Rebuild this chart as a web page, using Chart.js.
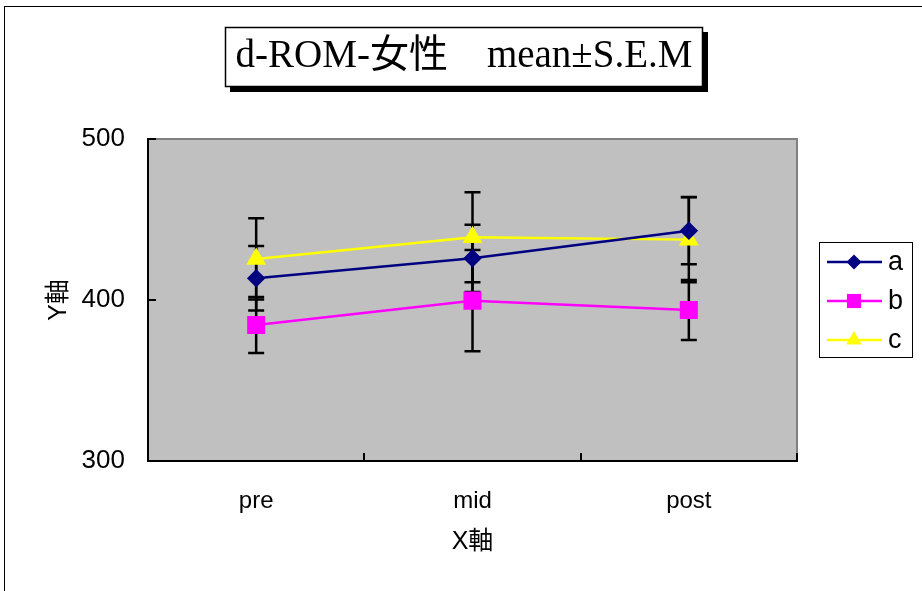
<!DOCTYPE html>
<html>
<head>
<meta charset="utf-8">
<script src="https://cdn.jsdelivr.net/npm/chart.js@4"></script>
<style>
  html, body { margin: 0; padding: 0; background: #fff; }
  canvas { display: block; }
</style>
</head>
<body>
<canvas id="chart" width="922" height="591"></canvas>
<script>
const labels = ['pre', 'mid', 'post'];
const seriesA = [413.5, 425.9, 443.0];
const seriesB = [384.5, 399.6, 393.8];
const seriesC = [425.5, 439.0, 437.5];
const semA = [20.0, 20.9, 20.8];
const semB = [17.4, 31.5, 18.6];
const semC = [25.2, 28.0, 26.5];
const yTicks = [300, 400, 500];
const titleText = 'd-ROM-女性\u3000mean\u00B1S.E.M';

const sans = '"Liberation Sans", Arial, "Noto Sans CJK JP", sans-serif';
const serif = '"Liberation Serif", "Times New Roman", "Noto Sans CJK JP", serif';

// error bars, inner ticks, frame, title box, legend
const excelLook = {
  id: 'excelLook',
  beforeDraw(chart) {
    const c = chart.ctx, a = chart.chartArea;
    c.save();
    c.fillStyle = '#fff';
    c.fillRect(0, 0, chart.width, chart.height);
    c.strokeStyle = '#000';
    c.lineWidth = 1;
    c.strokeRect(4.5, 6.5, chart.width + 20, chart.height + 20);
    c.fillStyle = '#c0c0c0';
    c.fillRect(a.left, a.top, a.right - a.left, a.bottom - a.top);
    c.strokeStyle = '#808080';
    c.lineWidth = 2;
    c.beginPath();
    c.moveTo(a.left, a.top);
    c.lineTo(a.right, a.top);
    c.lineTo(a.right, a.bottom);
    c.stroke();
    c.restore();
  },
  beforeDatasetsDraw(chart) {
    const c = chart.ctx, a = chart.chartArea;
    const xs = chart.scales.x, ys = chart.scales.y;
    c.save();
    c.strokeStyle = '#000';
    c.lineWidth = 2;
    // inner tick marks
    c.beginPath();
    for (let i = 1; i <= labels.length; i++) {
      const x = Math.round(a.left + (a.right - a.left) * i / labels.length);
      c.moveTo(x, a.bottom);
      c.lineTo(x, a.bottom - 8);
    }
    yTicks.forEach(v => {
      const y = Math.round(ys.getPixelForValue(v));
      c.moveTo(a.left, y);
      c.lineTo(a.left + 8, y);
    });
    c.stroke();
    // error bars
    c.lineWidth = 2.5;
    const sems = [semA, semB, semC];
    chart.data.datasets.forEach((ds, i) => {
      ds.data.forEach((v, j) => {
        const x = xs.getPixelForValue(j);
        const yt = ys.getPixelForValue(v + sems[i][j]);
        const yb = ys.getPixelForValue(v - sems[i][j]);
        c.beginPath();
        c.moveTo(x, yt); c.lineTo(x, yb);
        c.moveTo(x - 8, yt); c.lineTo(x + 8, yt);
        c.moveTo(x - 8, yb); c.lineTo(x + 8, yb);
        c.stroke();
      });
    });
    c.restore();
  },
  afterDraw(chart) {
    const c = chart.ctx;
    c.save();
    // title box with shadow
    c.fillStyle = '#000';
    c.fillRect(230, 32, 478, 60);
    c.fillStyle = '#fff';
    c.fillRect(225, 27, 478, 60);
    c.strokeStyle = '#000';
    c.lineWidth = 1.5;
    c.strokeRect(225.5, 27.5, 477, 59);
    c.fillStyle = '#000';
    c.font = '39px ' + serif;
    c.textAlign = 'center';
    c.textBaseline = 'alphabetic';
    c.fillText(titleText, 464, 67);
    // legend
    c.fillStyle = '#fff';
    c.fillRect(819, 242, 94, 116);
    c.strokeStyle = '#000';
    c.lineWidth = 1;
    c.strokeRect(819.5, 242.5, 93, 115);
    const rows = [262, 301, 340];
    chart.data.datasets.forEach((ds, i) => {
      const y = rows[i];
      c.strokeStyle = ds.borderColor;
      c.lineWidth = 2.5;
      c.beginPath();
      c.moveTo(827, y); c.lineTo(882, y);
      c.stroke();
      c.fillStyle = ds.pointBackgroundColor;
      Chart.helpers.drawPoint(c, { pointStyle: ds.pointStyle, radius: ds.legendRadius, rotation: 0, borderWidth: 0 }, 854, y);
      c.fillStyle = '#000';
      c.font = '27px ' + sans;
      c.textAlign = 'left';
      c.textBaseline = 'middle';
      c.fillText(ds.label, 888, y + 1);
    });
    c.restore();
  }
};

new Chart(document.getElementById('chart'), {
  type: 'line',
  data: {
    labels: labels,
    datasets: [
      { label: 'a', data: seriesA, borderColor: '#000080', backgroundColor: '#000080',
        pointBackgroundColor: '#000080', pointBorderColor: '#000080',
        pointStyle: 'rectRot', pointRadius: 7.5, legendRadius: 7.5, borderWidth: 2.5 },
      { label: 'b', data: seriesB, borderColor: '#ff00ff', backgroundColor: '#ff00ff',
        pointBackgroundColor: '#ff00ff', pointBorderColor: '#ff00ff',
        pointStyle: 'rect', pointRadius: 11, legendRadius: 10, borderWidth: 2.5 },
      { label: 'c', data: seriesC, borderColor: '#ffff00', backgroundColor: '#ffff00',
        pointBackgroundColor: '#ffff00', pointBorderColor: '#ffff00',
        pointStyle: 'triangle', pointRadius: 9, legendRadius: 9, borderWidth: 2.5 }
    ]
  },
  options: {
    responsive: false,
    animation: false,
    events: [],
    layout: { padding: { top: 139, right: 125, left: 0, bottom: 0 } },
    elements: { line: { tension: 0 }, point: { borderWidth: 1 } },
    plugins: { legend: { display: false }, title: { display: false }, tooltip: { enabled: false } },
    scales: {
      x: {
        offset: true,
        grid: { display: false, drawTicks: false },
        border: { display: true, color: '#000', width: 2 },
        ticks: { color: '#000', font: { family: sans, size: 24 }, padding: 26 },
        title: { display: true, text: 'X軸', color: '#000', font: { family: sans, size: 25 }, padding: { top: 0, bottom: 34 } },
        afterFit(scale) { scale.height = 130; }
      },
      y: {
        min: 300, max: 500,
        grid: { display: false, drawTicks: false },
        border: { display: true, color: '#000', width: 2 },
        ticks: { stepSize: 100, color: '#000', font: { family: sans, size: 26 }, padding: 23 },
        title: { display: true, text: 'Y軸', color: '#000', font: { family: sans, size: 25 }, padding: { top: 44, bottom: 0 } },
        afterFit(scale) { scale.width = 148; }
      }
    }
  },
  plugins: [excelLook]
});
</script>
</body>
</html>
